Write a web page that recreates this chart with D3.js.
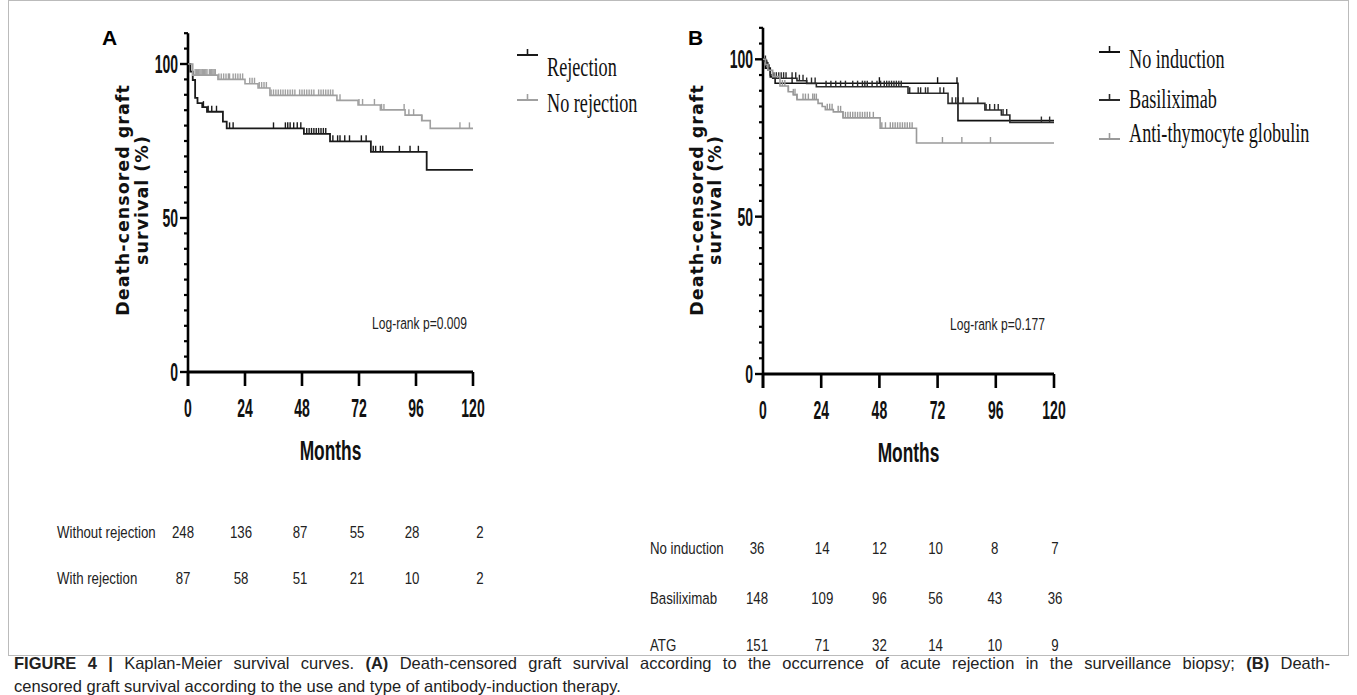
<!DOCTYPE html>
<html><head><meta charset="utf-8">
<script src="https://cdn.jsdelivr.net/npm/d3@7/dist/d3.min.js"></script>
<style>body{margin:0;background:#fff}svg{display:block}</style>
</head><body>
<svg id="c" width="1357" height="695"></svg>
<script>
// ---------- data ----------
const monthTicks = [0, 24, 48, 72, 96, 120];
const yMajorTicks = [0, 50, 100];
const yMinorTicks = [5,10,15,20,25,30,35,40,45,55,60,65,70,75,80,85,90,95,105,110];

// Panel A: step points [month, survival %]
const rejectionSteps = [[0,100],[1,97.5],[2,94.8],[3,89],[4,87.3],[6,86],[8,84.5],[14.7,81.3],[16.3,79.1],[48.8,77.3],[59.8,74.9],[77,71.5],[100.5,65.6]];
const noRejectionSteps = [[0,100],[2,96.4],[12.6,95],[24,93.6],[29.5,92.2],[34.5,89.8],[62.7,88.2],[71.6,86.7],[81,85.1],[91.4,83.4],[98.4,81.6],[102,79.1]];
const rejectionCensor = [6.5,8.5,10,12,17.5,19,36,41,42,43,44.5,46,47.5,50,51,52,53,54,55,56,57,58,61,63,64,66,68,73,75,78,79,81,82,89,93.5,97];
const noRejectionCensor = [3,3.5,4,4.5,5,5.5,6,6.5,7,7.5,8,9,9.5,10,10.5,11,11.5,13,14,15,16,17,17.5,19,20,21,22,23,26,27,28,30,31,32,33,35,36,37,38,39,40,41,42,43,44,45,47,48,49,50,51,52,53,55,56,57,58,59,60,61,64,72,73.5,78.5,81.5,82.5,91,93,95,98.5,114.5,118.5];

// Panel B
const noInductionSteps = [[0,100],[1,97.2],[3,94.4],[5,92.4],[80.4,80.5]];
const basiliximabSteps = [[0,100],[0.5,99.3],[1.5,98],[2,96.5],[3,95],[4,94],[14,93.2],[18,92.3],[22,91.3],[59.8,89.2],[76.3,86],[91.5,83.9],[98.3,82.3],[101.8,79.9]];
const atgSteps = [[0,100],[1,98.3],[2,96.5],[4,94.5],[7,91.5],[10.4,89.7],[12.5,88.7],[14,87.2],[22.7,86],[24.4,85],[25.7,84],[29,83.3],[33,81.4],[48.3,78.1],[63.3,73.4]];
const noInductionCensor = [2,12,48,72,80];
const basiliximabCensor = [1,1.5,2.5,4.5,5.5,6.5,7.5,8.5,9.5,12,13.5,15,16.5,18,20,21.5,26,28,30,32,34,37,39,41,42,43,45,47,48.5,50,51,52,53,54,55,56,57,60.5,64,65,67,68,73,74.5,78,79.5,80.5,82.5,88.6,92,93.5,95.5,97,99,100.5,114.8,118.2];
const atgCensor = [8,9,10.5,12.5,13.2,14,16.5,17.5,18.7,20.5,21.2,22,26.5,27.5,28.5,31,32,33,34,35,36,37,38,39,40,41,42,43,44,45.5,49,50.5,52.5,53.5,54.5,55.5,56.5,57.5,58.5,59.5,60.5,61.5,74,82,93.8];

// Legends
const legendA = ["Rejection", "No rejection"];
const legendB = ["No induction", "Basiliximab", "Anti-thymocyte globulin"];

// Numbers at risk
const tableALabels = ["Without rejection", "With rejection"];
const tableAValues = [[248,136,87,55,28,2],[87,58,51,21,10,2]];
const tableBLabels = ["No induction", "Basiliximab", "ATG"];
const tableBValues = [[36,14,12,10,8,7],[148,109,96,56,43,36],[151,71,32,14,10,9]];

const pValueA = "Log-rank p=0.009";
const pValueB = "Log-rank p=0.177";
const yTitle = ["Death-censored graft", "survival (%)"];
const xTitle = "Months";

// ---------- drawing ----------
const svg = d3.select("#c");
const SANS = "'Liberation Sans', Arial, sans-serif";
const SERIF = "'Liberation Serif', 'Times New Roman', serif";
const WIDE = "'DejaVu Sans', Verdana, sans-serif";

function stext(g, x, y, str, o) {
  o = o || {};
  return g.append("text")
    .attr("transform", `translate(${x},${y}) scale(${o.sx || 1},1)`)
    .attr("text-anchor", o.anchor || "start")
    .attr("font-family", o.family || SANS)
    .attr("font-size", o.size || 16)
    .attr("font-weight", o.weight || "normal")
    .attr("fill", o.fill || "#111")
    .text(str);
}

function valueAt(steps, t) {
  let v = steps[0][1];
  for (const s of steps) { if (s[0] <= t) v = s[1]; }
  return v;
}

// frame
svg.append("rect").attr("x", 8.5).attr("y", 0.5).attr("width", 1340).attr("height", 655)
  .attr("fill", "none").attr("stroke", "#bbb").attr("stroke-width", 1);

function panel(cfg) {
  const g = svg.append("g");
  const x = d3.scaleLinear().domain([0, 120]).range([cfg.x0, cfg.x1]);
  const y = d3.scaleLinear().domain([0, 100]).range([cfg.y0, cfg.y100]);

  // y axis
  const yAxis = g.append("g").attr("transform", `translate(${cfg.x0},0)`);
  yAxis.append("line").attr("x1", 0).attr("x2", 0).attr("y1", y(0) + 14).attr("y2", y(110))
    .attr("stroke", "#000").attr("stroke-width", 2.6);
  yAxis.selectAll(".mn").data(yMinorTicks).join("line")
    .attr("x1", -4).attr("x2", 0).attr("y1", d => y(d)).attr("y2", d => y(d))
    .attr("stroke", "#000").attr("stroke-width", 2.2);
  yAxis.selectAll(".mj").data(yMajorTicks).join("line")
    .attr("x1", -8).attr("x2", 0).attr("y1", d => y(d)).attr("y2", d => y(d))
    .attr("stroke", "#000").attr("stroke-width", 2.4);
  yMajorTicks.forEach(d => stext(yAxis, -10, y(d) + 9, String(d), {anchor: "end", size: 25, weight: "bold", sx: 0.56}));

  // x axis
  const xAxis = g.append("g");
  xAxis.append("line").attr("x1", x(0)).attr("x2", x(120)).attr("y1", y(0)).attr("y2", y(0))
    .attr("stroke", "#000").attr("stroke-width", 2.8);
  xAxis.selectAll(".xt").data(monthTicks).join("line")
    .attr("x1", d => x(d)).attr("x2", d => x(d)).attr("y1", y(0)).attr("y2", y(0) + 14)
    .attr("stroke", "#000").attr("stroke-width", 2.6);
  monthTicks.forEach(d => stext(xAxis, x(d), y(0) + 45, String(d), {anchor: "middle", size: 25, weight: "bold", sx: 0.56}));
  stext(g, (cfg.x0 + cfg.x1) / 2, y(0) + 88, xTitle, {anchor: "middle", size: 28, weight: "bold", sx: 0.62});

  // y title
  const yt = g.append("g").attr("transform", `translate(${cfg.titleX},${cfg.titleY}) rotate(-90)`);
  [0, 1].forEach(i => yt.append("text").attr("text-anchor", "middle").attr("y", i * cfg.titleGap)
    .attr("font-family", WIDE).attr("font-weight", "bold").attr("font-size", 17.5)
    .attr("letter-spacing", 1).attr("fill", "#111").text(yTitle[i]));

  // panel letter
  g.append("text").attr("x", cfg.letterX).attr("y", 45).attr("font-family", SANS)
    .attr("font-weight", "bold").attr("font-size", 21).attr("fill", "#000").text(cfg.letter);

  // curves
  const line = d3.line().x(d => x(d[0])).y(d => y(d[1])).curve(d3.curveStepAfter);
  cfg.series.forEach(s => {
    const pts = s.steps.concat([[120, s.steps[s.steps.length - 1][1]]]);
    g.append("path").attr("d", line(pts)).attr("fill", "none")
      .attr("stroke", s.color).attr("stroke-width", s.width || 1.6);
    g.selectAll(null).data(s.censor).join("line")
      .attr("x1", d => x(d)).attr("x2", d => x(d))
      .attr("y1", d => y(valueAt(s.steps, d))).attr("y2", d => y(valueAt(s.steps, d)) - 6)
      .attr("stroke", s.color).attr("stroke-width", 1.4);
  });

  // p value
  stext(g, cfg.pX, cfg.pY, cfg.pText, {size: 17, sx: 0.71, fill: "#222"});

  // legend
  cfg.series.forEach((s, i) => {
    const ly = cfg.legY[i], ty = cfg.legTextY[i];
    g.append("line").attr("x1", cfg.legX).attr("x2", cfg.legX + 21).attr("y1", ly).attr("y2", ly)
      .attr("stroke", s.color).attr("stroke-width", 2);
    g.append("line").attr("x1", cfg.legX + 10.5).attr("x2", cfg.legX + 10.5).attr("y1", ly).attr("y2", ly - 6)
      .attr("stroke", s.color).attr("stroke-width", 1.6);
    stext(g, cfg.legX + 30, ty, cfg.legend[i], {family: SERIF, size: 28, sx: 0.65, fill: "#111"});
  });

  // numbers at risk
  cfg.tableLabels.forEach((lab, r) => {
    const ty = cfg.tableY[r];
    stext(g, cfg.tableLabelX, ty, lab, {size: 17, sx: 0.78, fill: "#222"});
    cfg.tableValues[r].forEach((v, c) => {
      stext(g, x(monthTicks[c]) + cfg.colOffset[c], ty, String(v), {anchor: "middle", size: 17, sx: 0.78, fill: "#222"});
    });
  });
}

panel({
  letter: "A", letterX: 102,
  x0: 188, x1: 473, y0: 372, y100: 64,
  titleX: 129, titleY: 200, titleGap: 19,
  pText: pValueA, pX: 372, pY: 329,
  legend: legendA, legX: 517, legY: [55, 100], legTextY: [76, 112],
  series: [
    {steps: rejectionSteps, censor: rejectionCensor, color: "#1a1a1a", width: 1.8},
    {steps: noRejectionSteps, censor: noRejectionCensor, color: "#a0a0a0"}
  ],
  tableLabels: tableALabels, tableValues: tableAValues, tableLabelX: 57,
  tableY: [538, 584], colOffset: [-5, -4, -2, -2, -4, 7]
});

panel({
  letter: "B", letterX: 688,
  x0: 763, x1: 1054, y0: 374, y100: 59.3,
  titleX: 703, titleY: 200, titleGap: 18,
  pText: pValueB, pX: 950, pY: 330,
  legend: legendB, legX: 1099, legY: [52, 100, 139], legTextY: [68, 108, 142],
  series: [
    {steps: noInductionSteps, censor: noInductionCensor, color: "#111"},
    {steps: basiliximabSteps, censor: basiliximabCensor, color: "#2a2a2a"},
    {steps: atgSteps, censor: atgCensor, color: "#9a9a9a"}
  ],
  tableLabels: tableBLabels, tableValues: tableBValues, tableLabelX: 650,
  tableY: [554, 604, 651], colOffset: [-6, 1, 0, -2, -1, 1]
});

// caption
const cap = svg.append("g").attr("font-family", SANS).attr("font-size", 16.5).attr("fill", "#222");
const l1 = cap.append("text").attr("x", 14).attr("y", 669);
l1.append("tspan").attr("font-weight", "bold").text("FIGURE 4 | ");
l1.append("tspan").text("Kaplan-Meier survival curves. ");
l1.append("tspan").attr("font-weight", "bold").text("(A)");
l1.append("tspan").text(" Death-censored graft survival according to the occurrence of acute rejection in the surveillance biopsy; ");
l1.append("tspan").attr("font-weight", "bold").text("(B)");
l1.append("tspan").text(" Death-");
// justify first line to the full width
const natural = l1.node().getComputedTextLength();
const spaces = (l1.text().match(/ /g) || []).length;
l1.attr("word-spacing", Math.max(0, (1316 - natural) / spaces));
cap.append("text").attr("x", 14).attr("y", 692).text("censored graft survival according to the use and type of antibody-induction therapy.");
</script>
</body></html>
